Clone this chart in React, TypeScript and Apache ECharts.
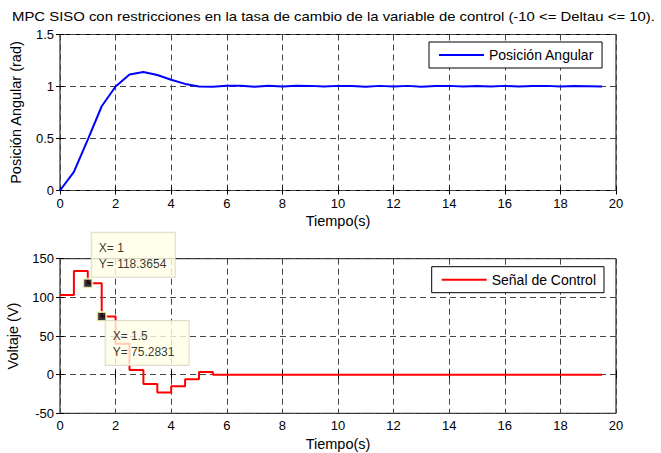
import React, { useEffect, useRef } from "react";
import * as echarts from "echarts";

const titleText = "MPC SISO con restricciones en la tasa de cambio de la variable de control (-10 <= Deltau <= 10).";
const timeValues = [
  0, 0.5, 1, 1.5, 2, 2.5, 3, 3.5, 4, 4.5, 5, 5.5, 6, 6.5, 7, 7.5, 8, 8.5, 9, 9.5,
  10, 10.5, 11, 11.5, 12, 12.5, 13, 13.5, 14, 14.5, 15, 15.5, 16, 16.5, 17, 17.5, 18, 18.5, 19, 19.5,
];
const positionValues = [
  0, 0.18, 0.49, 0.81, 1.0, 1.115, 1.14, 1.11, 1.065, 1.025, 1.0, 0.998, 1.008, 1.008, 0.998, 1.008, 1.0, 1.008, 1.006, 0.999,
  1.006, 1.004, 0.998, 1.006, 1.0, 1.006, 0.998, 1.004, 1.006, 0.999, 1.005, 1.0, 1.006, 0.999, 1.004, 1.006, 0.999, 1.004, 1.003, 1.0,
];
const controlValues = [
  103, 134, 118.3654, 75.2831, 40, 6, -12, -23, -15, -6, 3.5, 0, 0, 0, 0, 0, 0, 0, 0, 0,
  0, 0, 0, 0, 0, 0, 0, 0, 0, 0, 0, 0, 0, 0, 0, 0, 0, 0, 0, 0,
];
const dataTipX = [1, 1.5];
const dataTipY = [118.3654, 75.2831];
const xTicks = { min: 0, max: 20, interval: 2 };
const topYTicks = { min: 0, max: 1.5, interval: 0.5 };
const bottomYTicks = { min: -50, max: 150, interval: 50 };

const FONT = "'Liberation Sans', Arial, Helvetica, sans-serif";

export default function App() {
  const ref = useRef<HTMLDivElement>(null);
  useEffect(() => {
    if (!ref.current) return;
    const chart = echarts.init(ref.current, null, { renderer: "svg" });
    const axisLine = { show: false };
    const tick = { show: true, inside: true, length: 4, lineStyle: { color: "#000" } };
    const split = { show: true, lineStyle: { color: "#444", type: [6, 4] as any, width: 1 } };
    const lbl = { color: "#000", fontSize: 13, fontFamily: FONT };
    const nameStyle = { color: "#000", fontSize: 14.5, fontWeight: "normal", fontFamily: FONT };
    const mkX = (grid: number, primary: boolean) => ({
      type: "value",
      gridIndex: grid,
      ...xTicks,
      position: primary ? "bottom" : "top",
      offset: 0,
      axisLine,
      axisTick: tick,
      splitLine: primary ? split : { show: false },
      axisLabel: primary ? { ...lbl, margin: 6 } : { show: false },
      name: primary ? "Tiempo(s)" : "",
      nameLocation: "middle",
      nameGap: 23,
      nameTextStyle: nameStyle,
    });
    const mkY = (grid: number, primary: boolean, ticks: any, name: string, gap: number) => ({
      type: "value",
      gridIndex: grid,
      ...ticks,
      position: primary ? "left" : "right",
      offset: 0,
      axisLine,
      axisTick: tick,
      splitLine: primary ? split : { show: false },
      axisLabel: primary ? { ...lbl, margin: 6 } : { show: false },
      name: primary ? name : "",
      nameLocation: "middle",
      nameGap: gap,
      nameTextStyle: nameStyle,
    });
    const tipLabel = (dx: number, dy: number) => ({
      show: true,
      position: [dx, dy],
      align: "left",
      verticalAlign: "top",
      formatter: (p: any) => `X= ${p.value[0]}\nY= ${p.value[1]}`,
      color: "#000",
      fontSize: 12,
      fontFamily: FONT,
      lineHeight: 16,
      backgroundColor: "#ffffe6",
      borderColor: "#d4d4c0",
      borderWidth: 1,
      padding: [7, 6, 5, 7],
      width: 70,
    });
    const legendBase = {
      padding: [6, 8, 6, 10],
      borderColor: "#000",
      borderWidth: 1,
      borderRadius: 0,
      backgroundColor: "#fff",
      icon: "rect",
      itemWidth: 45,
      itemHeight: 2,
      itemGap: 6,
      textStyle: { color: "#000", fontSize: 14, fontFamily: FONT },
    };
    const gridBase = {
      show: true,
      borderColor: "#000",
      borderWidth: 1,
      backgroundColor: "transparent",
      containLabel: false,
      outerBoundsMode: "none",
    };
    chart.setOption({
      animation: false,
      backgroundColor: "#fff",
      graphic: [
        {
          type: "text",
          x: 12,
          y: 10,
          scaleX: 1.146,
          style: { text: titleText, font: `13px ${FONT}`, fill: "#000" },
        },
      ],
      grid: [
        { ...gridBase, left: 60, top: 34.5, width: 556, height: 156 },
        { ...gridBase, left: 60, top: 258.7, width: 556, height: 154.6 },
      ],
      legend: [
        { ...legendBase, data: ["Posición Angular"], left: 429, top: 42 },
        { ...legendBase, data: ["Señal de Control"], left: 431.7, top: 266.7 },
      ],
      xAxis: [mkX(0, true), mkX(0, false), mkX(1, true), mkX(1, false)],
      yAxis: [
        mkY(0, true, topYTicks, "Posición Angular (rad)", 37),
        mkY(0, false, topYTicks, "", 0),
        mkY(1, true, bottomYTicks, "Voltaje (V)", 40),
        mkY(1, false, bottomYTicks, "", 0),
      ],
      series: [
        {
          name: "Posición Angular",
          type: "line",
          xAxisIndex: 0,
          yAxisIndex: 0,
          data: timeValues.map((t, i) => [t, positionValues[i]]),
          showSymbol: false,
          color: "#0000ff",
          lineStyle: { color: "#0000ff", width: 2 },
          z: 3,
        },
        {
          name: "Señal de Control",
          type: "line",
          step: "end",
          xAxisIndex: 2,
          yAxisIndex: 2,
          data: timeValues.map((t, i) => [t, controlValues[i]]),
          showSymbol: false,
          color: "#ff0000",
          lineStyle: { color: "#ff0000", width: 2 },
          z: 3,
        },
        {
          name: "datatip",
          type: "scatter",
          xAxisIndex: 2,
          yAxisIndex: 2,
          symbol: "rect",
          symbolSize: 9,
          itemStyle: { color: "#000", borderColor: "#ffffcc", borderWidth: 2 },
          z: 5,
          data: [
            { value: [dataTipX[0], dataTipY[0]], label: tipLabel(9.5, -45) },
            { value: [dataTipX[1], dataTipY[1]], label: tipLabel(9.5, 10) },
          ],
        },
      ],
    });
    return () => chart.dispose();
  }, []);
  return (
    <div
      ref={ref}
      style={{ position: "fixed", left: 0, top: 0, width: 661, height: 453, background: "#fff" }}
    />
  );
}
